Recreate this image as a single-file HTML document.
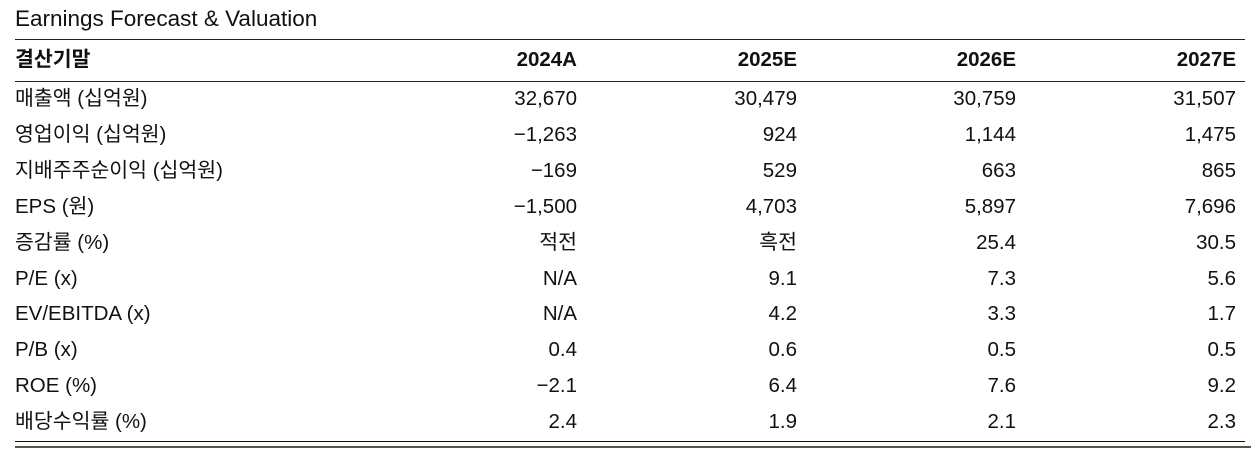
<!DOCTYPE html>
<html><head><meta charset="utf-8"><style>
body{margin:0;width:1251px;height:460px;background:#fff;position:relative;overflow:hidden;font-family:"Liberation Sans","Noto Sans CJK KR",sans-serif;color:#111;}
.t{position:absolute;font-size:20.5px;line-height:24px;white-space:nowrap;}
.r{text-align:right;}
.ln{position:absolute;left:15px;}
</style></head><body>
<div class="t" style="left:15px;top:7px;font-size:22.5px">Earnings Forecast &amp; Valuation</div>
<div class="ln" style="top:39px;width:1230px;height:1px;background:#222"></div>
<div class="ln" style="top:81px;width:1230px;height:1px;background:#222"></div>
<div class="ln" style="top:441px;width:1230px;height:1px;background:#111"></div>
<div class="ln" style="top:446px;width:1236px;height:2px;background:#555548"></div>
<div id="tbl"></div>
<script>
const header=["결산기말","2024A","2025E","2026E","2027E"];
const rows=[
["매출액 (십억원)","32,670","30,479","30,759","31,507"],
["영업이익 (십억원)","−1,263","924","1,144","1,475"],
["지배주주순이익 (십억원)","−169","529","663","865"],
["EPS (원)","−1,500","4,703","5,897","7,696"],
["증감률 (%)","적전","흑전","25.4","30.5"],
["P/E (x)","N/A","9.1","7.3","5.6"],
["EV/EBITDA (x)","N/A","4.2","3.3","1.7"],
["P/B (x)","0.4","0.6","0.5","0.5"],
["ROE (%)","−2.1","6.4","7.6","9.2"],
["배당수익률 (%)","2.4","1.9","2.1","2.3"]
];
const colRight=[0,577,797,1016,1236];
const tbl=document.getElementById('tbl');
function cell(txt,ci,cy,bold,name){
  const d=document.createElement('div');
  
  
  d.className='t'+(ci?' r':'');
  d.textContent=txt;
  d.style.top=(cy-12)+'px';
  if(ci){d.style.left=(colRight[ci]-200)+'px';d.style.width='200px';}
  else d.style.left='15px';
  if(bold)d.style.fontWeight='bold';
  tbl.appendChild(d);
}
header.forEach((h,i)=>cell(h,i,60,true,i?'header-'+h:'header-label'));
rows.forEach((r,ri)=>{
  const cy=99+ri*35.9;
  r.forEach((v,ci)=>cell(v,ci,cy,false,ci?'cell-r'+ri+'-c'+ci:'row-label-'+ri));
});
</script>
</body></html>
